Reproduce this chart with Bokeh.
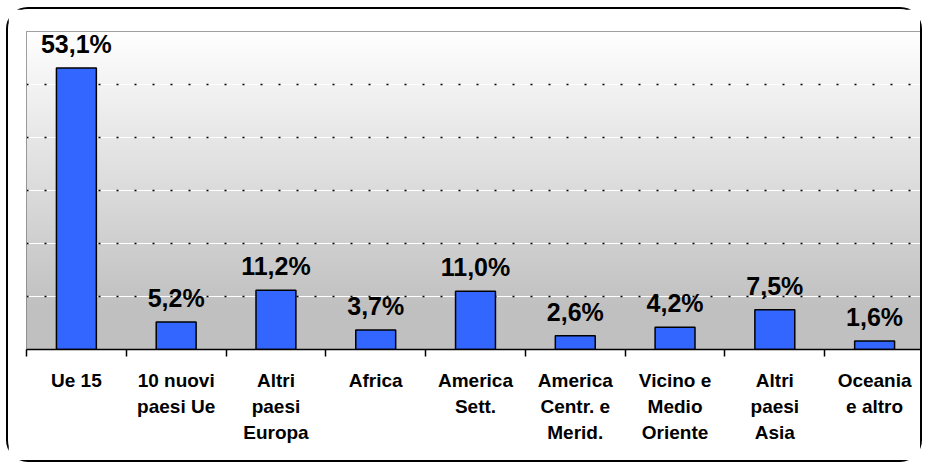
import numpy as np
from bokeh.plotting import figure
from bokeh.models import Range1d, FixedTicker, LinearAxis, Grid
from bokeh.core.properties import value
from bokeh.embed import file_html
from bokeh.resources import INLINE

# ---- data ----
categories = ["Ue 15", "10 nuovi\npaesi Ue", "Altri\npaesi\nEuropa", "Africa",
              "America\nSett.", "America\nCentr. e\nMerid.", "Vicino e\nMedio\nOriente",
              "Altri\npaesi\nAsia", "Oceania\ne altro"]
shares = [53.1, 5.2, 11.2, 3.7, 11.0, 2.6, 4.2, 7.5, 1.6]
share_labels = ["53,1%", "5,2%", "11,2%", "3,7%", "11,0%", "2,6%", "4,2%", "7,5%", "1,6%"]
y_grid_ticks = [10, 20, 30, 40, 50, 60]

n = len(categories)
xs = [i + 0.5 for i in range(n)]
FONT = "Liberation Sans"

p = figure(width=916, height=455, x_range=Range1d(0, n), y_range=Range1d(0, 60),
           output_backend="svg", toolbar_location=None,
           x_axis_type=None, y_axis_type=None)
p.min_border_left = 18
p.min_border_right = 0
p.min_border_top = 22
p.min_border_bottom = 115
p.outline_line_color = "#808080"
p.outline_line_width = 1
p.background_fill_color = "white"
p.border_fill_color = "white"
p.styles = {"border": "2px solid black", "border-radius": "22px",
            "margin-left": "6px", "margin-top": "7px"}

# vertical gradient background of plot area (style only)
rows = 240
grad = np.empty((rows, 1), dtype=np.uint32)
view = grad.view(dtype=np.uint8).reshape((rows, 1, 4))
t = np.clip((np.arange(rows) / (rows - 1) - 0.12) / 0.88, 0, 1)
g = (0xC0 + (0xFF - 0xC0) * t).astype(np.uint8)
view[:, 0, 0] = g
view[:, 0, 1] = g
view[:, 0, 2] = g
view[:, 0, 3] = 255
p.image_rgba(image=[grad], x=0, y=0, dw=n, dh=60, level="image")

# grid lines: white line with black dots
g1 = Grid(dimension=1, ticker=FixedTicker(ticks=y_grid_ticks[:-1]),
          grid_line_color="white", grid_line_width=1)
g2 = Grid(dimension=1, ticker=FixedTicker(ticks=y_grid_ticks),
          grid_line_color="black", grid_line_width=1.5, grid_line_dash="2 16")
p.add_layout(g1)
p.add_layout(g2)

# bars
p.vbar(x=xs, top=shares, width=0.4, fill_color="#3366FF", line_color="black", line_width=1.5)

# value labels
p.text(x=xs, y=shares, text=share_labels, text_align="center", text_baseline="alphabetic",
       y_offset=-24, text_font=value(FONT), text_font_style="bold", text_font_size="25px",
       text_color="black")

# axis with boundary ticks
ax_ticks = LinearAxis(ticker=FixedTicker(ticks=list(range(n + 1))),
                      major_tick_out=7, major_tick_in=0,
                      minor_tick_out=0, minor_tick_in=0,
                      axis_line_color="black", axis_line_width=1.5,
                      major_tick_line_color="black", major_tick_line_width=1.5,
                      major_label_overrides={i: "" for i in range(n + 1)},
                      major_label_standoff=0, major_label_text_font_size="1px")
p.add_layout(ax_ticks, "below")

# axis with category labels
ax_lab = LinearAxis(ticker=FixedTicker(ticks=xs),
                    major_label_overrides={x: c for x, c in zip(xs, categories)},
                    major_tick_out=0, major_tick_in=0, minor_tick_out=0, minor_tick_in=0,
                    axis_line_color=None, major_tick_line_color=None,
                    major_label_text_font=FONT, major_label_text_font_style="bold",
                    major_label_text_font_size="19px", major_label_text_line_height=1.25,
                    major_label_text_color="black", major_label_standoff=13)
p.add_layout(ax_lab, "below")

open("out.html", "w").write(file_html(p, INLINE))
